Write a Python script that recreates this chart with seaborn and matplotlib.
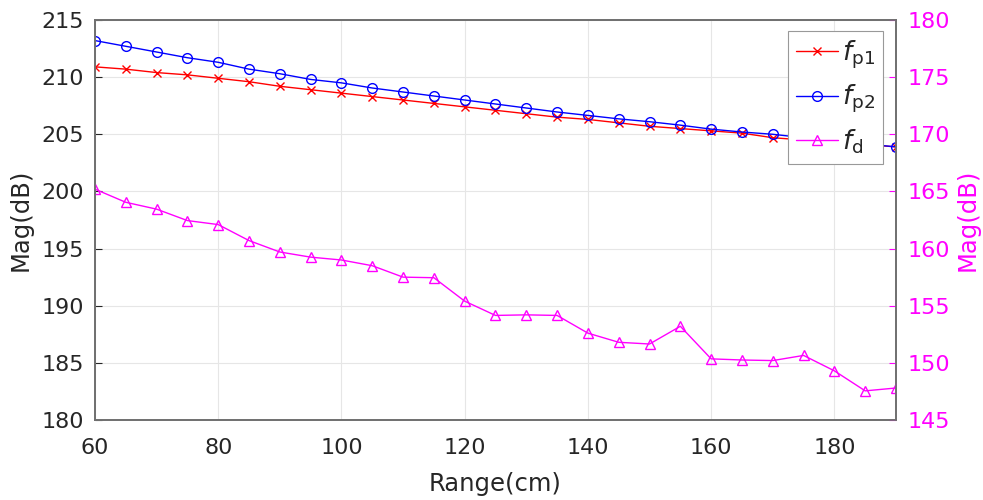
import numpy as np
import pandas as pd
import matplotlib
matplotlib.use("Agg")
import matplotlib.pyplot as plt
import seaborn as sns

range_cm = [60, 65, 70, 75, 80, 85, 90, 95, 100, 105, 110, 115, 120, 125,
            130, 135, 140, 145, 150, 155, 160, 165, 170, 175, 180, 185, 190]
fp1 = [210.9, 210.7, 210.4, 210.2, 209.9, 209.6, 209.2, 208.9, 208.6, 208.3,
       208.0, 207.7, 207.4, 207.1, 206.8, 206.5, 206.3, 206.0, 205.7, 205.5,
       205.3, 205.1, 204.7, 204.5, 204.3, 204.1, 203.9]
fp2 = [213.2, 212.7, 212.2, 211.7, 211.3, 210.7, 210.3, 209.8, 209.5, 209.05,
       208.7, 208.35, 208.0, 207.65, 207.3, 206.95, 206.65, 206.35, 206.1, 205.8,
       205.45, 205.2, 205.0, 204.7, 204.4, 204.15, 203.9]
fd = [165.2, 164.05, 163.45, 162.45, 162.1, 160.7, 159.7, 159.25, 159.0, 158.5,
      157.5, 157.45, 155.4, 154.15, 154.2, 154.15, 152.6, 151.8, 151.65, 153.2,
      150.35, 150.25, 150.2, 150.65, 149.3, 147.55, 147.8]

df = pd.DataFrame({"range": range_cm, "fp1": fp1, "fp2": fp2, "fd": fd})

sns.set_theme(style="white")
plt.rcParams["font.family"] = ["DejaVu Sans"]
plt.rcParams["mathtext.fontset"] = "dejavusans"

fig = plt.figure(figsize=(9.83, 5.0), dpi=100)
ax = fig.add_axes([0.0966, 0.16, 0.8149, 0.80])
ax2 = ax.twinx()

red = "#ff0000"
blue = "#0000ff"
mag = "#ff00ff"

sns.lineplot(data=df, x="range", y="fp1", ax=ax, color=red, marker="x",
             markersize=6, mec=red, mew=1.0, lw=1.0, legend=False)
sns.lineplot(data=df, x="range", y="fp2", ax=ax, color=blue, marker="o",
             markersize=7, mfc="none", mec=blue, mew=1.0, lw=1.0, legend=False)
sns.lineplot(data=df, x="range", y="fd", ax=ax2, color=mag, marker="^",
             markersize=7, mfc="none", mec=mag, mew=1.0, lw=1.0, legend=False)

ax.set_xlim(60, 190)
ax.set_ylim(180, 215)
ax2.set_ylim(145, 180)
ax.set_xticks([60, 80, 100, 120, 140, 160, 180])
ax.set_yticks(np.arange(180, 216, 5))
ax2.set_yticks(np.arange(145, 181, 5))

ax.grid(True, color="#e6e6e6", lw=0.8)
ax.set_axisbelow(True)

tick_color = "#262626"
ax.tick_params(axis="x", direction="in", length=5, labelsize=16, pad=13,
               colors=tick_color, width=0.8)
ax.tick_params(axis="y", direction="in", length=5, labelsize=16, pad=8,
               colors=tick_color, width=0.8)
ax2.tick_params(axis="y", direction="in", length=5, labelsize=16, pad=8,
                colors=mag, width=0.8)
for a in (ax, ax2):
    for s in ["left", "bottom", "top", "right"]:
        a.spines[s].set_color("#707070")

ax.set_xlabel("Range(cm)", fontsize=17.5, color=tick_color, labelpad=10)
ax.set_ylabel("Mag(dB)", fontsize=17.5, color=tick_color, labelpad=6)
ax2.set_ylabel("Mag(dB)", fontsize=17.5, color=mag, labelpad=4)

handles = ax.get_lines()[:2] + ax2.get_lines()[:1]
labels = [r"$f_{\mathrm{p1}}$", r"$f_{\mathrm{p2}}$", r"$f_{\mathrm{d}}$"]
leg = ax2.legend(handles, labels, loc="upper right",
                 bbox_to_anchor=(883 / 983, 1 - 31 / 500),
                 bbox_transform=fig.transFigure,
                 fontsize=19, frameon=True, fancybox=False, framealpha=1,
                 edgecolor="#999999", handlelength=1.6, borderpad=0.3,
                 labelspacing=0.45, handletextpad=0.15, borderaxespad=0)
leg.get_frame().set_linewidth(0.8)

fig.savefig("out.png", dpi=100, facecolor="white")
